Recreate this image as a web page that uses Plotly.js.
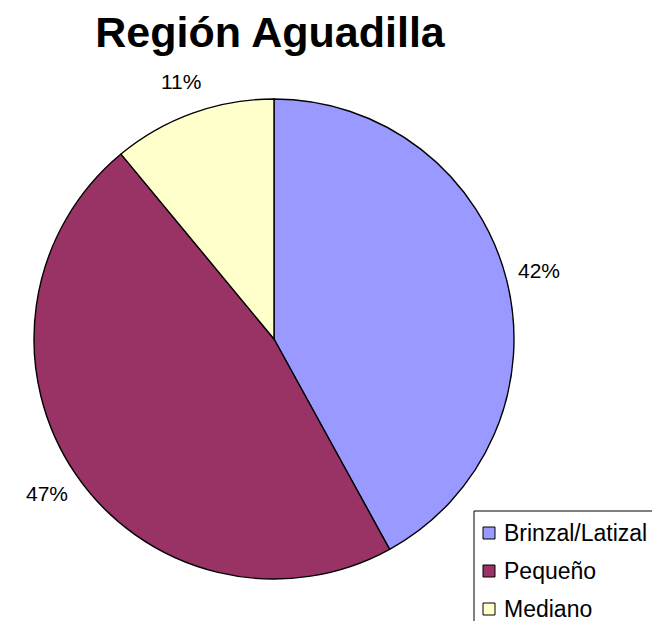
<!DOCTYPE html>
<html>
<head>
<meta charset="utf-8">
<script src="https://cdn.plot.ly/plotly-3.0.1.min.js"></script>
<style>html,body{margin:0;padding:0;background:#fff;}#chart{width:652px;height:621px;}</style>
</head>
<body>
<div id="chart"></div>
<script>
const categories = ["Brinzal/Latizal", "Pequeño", "Mediano"];
const values = [42, 47, 11];
const colors = ["#9999FF", "#993366", "#FFFFCC"];
const chartTitle = "Región Aguadilla";

const W = 652, H = 621;
const px = x => x / W;
const py = y => 1 - y / H;
const FONT = "Liberation Sans, Arial, sans-serif";

// pie geometry (pixels)
const CX = 274, CY = 339, R = 240, LABEL_R = 274;

const trace = {
  type: "pie",
  labels: categories,
  values: values,
  sort: false,
  direction: "clockwise",
  rotation: 0,
  marker: {colors: colors, line: {color: "#000000", width: 1.4}},
  textinfo: "none",
  domain: {x: [px(CX - R), px(CX + R)], y: [py(CY + R), py(CY - R)]},
  hoverinfo: "label+percent",
  showlegend: false
};

const shapes = [{
  type: "rect", xref: "paper", yref: "paper",
  x0: px(474), x1: px(700), y0: py(700), y1: py(511),
  line: {color: "#000", width: 1}, fillcolor: "rgba(0,0,0,0)"
}];
const annotations = [];

// percentage labels placed outside the slices, along each slice's mid-angle
const total = values.reduce((a, b) => a + b, 0);
let cum = 0;
values.forEach(v => {
  const mid = (cum + v / 2) / total * 2 * Math.PI;
  cum += v;
  annotations.push({
    xref: "paper", yref: "paper",
    x: px(CX + LABEL_R * Math.sin(mid)), y: py(CY - LABEL_R * Math.cos(mid)),
    xanchor: "center", yanchor: "middle", showarrow: false,
    text: Math.round(v / total * 100) + "%",
    font: {family: FONT, size: 21, color: "#000"}
  });
});

// legend
const rowY = [533, 571, 609];
categories.forEach((c, i) => {
  shapes.push({
    type: "rect", xref: "paper", yref: "paper",
    x0: px(483), x1: px(495), y0: py(rowY[i] + 6), y1: py(rowY[i] - 6),
    line: {color: "#000", width: 1}, fillcolor: colors[i]
  });
  annotations.push({
    xref: "paper", yref: "paper", x: px(502), y: py(rowY[i]),
    xanchor: "left", yanchor: "middle", showarrow: false, text: c,
    font: {family: FONT, size: 23, color: "#000"}
  });
});

const layout = {
  width: W, height: H,
  margin: {l: 0, r: 0, t: 0, b: 0},
  paper_bgcolor: "#fff",
  showlegend: false,
  title: {
    text: "<b>" + chartTitle + "</b>",
    x: px(270), xanchor: "center", y: py(32), yanchor: "middle",
    font: {family: FONT, size: 43, color: "#000"}
  },
  shapes: shapes,
  annotations: annotations
};

Plotly.newPlot("chart", [trace], layout, {displayModeBar: false, staticPlot: true});
</script>
</body>
</html>
